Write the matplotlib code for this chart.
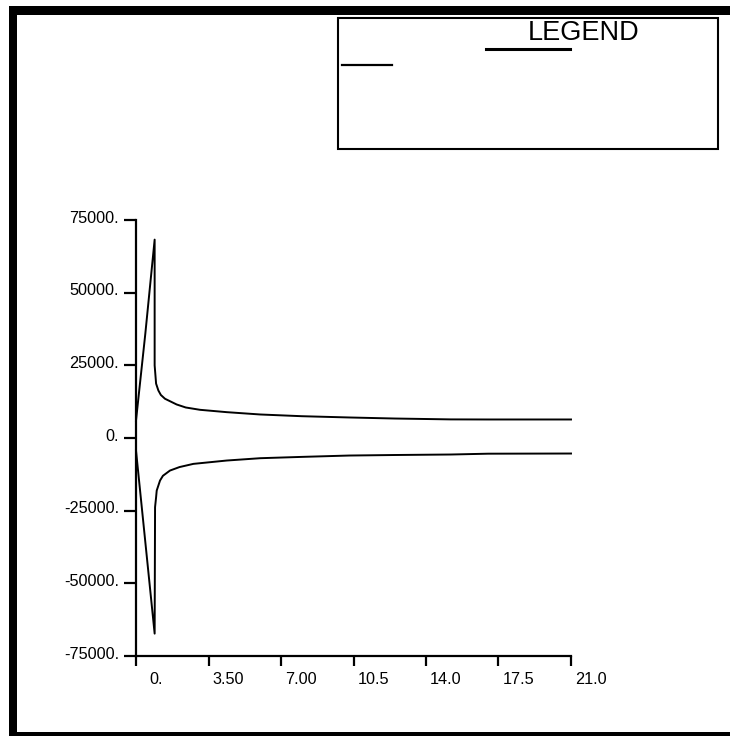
import matplotlib
matplotlib.use("Agg")
import matplotlib.pyplot as plt
import matplotlib.transforms as mtransforms
from matplotlib.patches import Rectangle
from matplotlib.lines import Line2D

plt.rcParams['font.family'] = ['Liberation Sans', 'DejaVu Sans']

# data
t_upper = [0, 0.45, 0.9, 0.9, 0.97, 1.08, 1.2, 1.4, 1.96, 2.4, 3.09, 4.38, 6.0, 8.0, 10.3, 12.5, 15.2, 17.0, 21.0]
v_upper = [6000, 35900, 68250, 25000, 18700, 16350, 14800, 13500, 11540, 10500, 9700, 8890, 8090, 7500, 7060, 6700, 6400, 6370, 6370]

t_lower = [0, 0.9, 0.92, 0.97, 1.0, 1.16, 1.3, 1.64, 2.1, 2.77, 4.38, 6.0, 8.0, 10.3, 12.5, 15.2, 17.0, 21.0]
v_lower = [-4300, -67300, -23800, -20400, -18080, -14630, -13000, -11200, -10000, -8900, -7750, -6950, -6500, -6030, -5850, -5680, -5400, -5340]

x_ticks = [0, 3.5, 7.0, 10.5, 14.0, 17.5, 21.0]
x_labels = ['0.', '3.50', '7.00', '10.5', '14.0', '17.5', '21.0']
y_ticks = [75000, 50000, 25000, 0, -25000, -50000, -75000]
y_labels = ['75000.', '50000.', '25000.', '0.', '-25000.', '-50000.', '-75000.']

W, H = 730, 736
fig = plt.figure(figsize=(W / 100, H / 100), dpi=100)


def fx(px):
    return px / W


def fy(py):
    return 1 - py / H


# thick frame around the page (open on the right)
for x0, y0, x1, y1 in [(9, 6, 730, 15), (9, 6, 17, 736), (9, 731.5, 730, 736)]:
    fig.add_artist(Rectangle((fx(x0), fy(y1)), fx(x1) - fx(x0), fy(y0) - fy(y1),
                             transform=fig.transFigure, facecolor='black',
                             edgecolor='none'))

# legend box
fig.add_artist(Rectangle((fx(338), fy(149)), fx(718) - fx(338), fy(18) - fy(149),
                         transform=fig.transFigure, facecolor='none',
                         edgecolor='black', linewidth=1.5))
fig.text(fx(584), fy(40), 'LEGEND', ha='center', va='baseline', fontsize=19.5)
fig.add_artist(Line2D([fx(486), fx(570)], [fy(48.7), fy(48.7)],
                      transform=fig.transFigure, color='black', linewidth=2.2))
fig.add_artist(Line2D([fx(342), fx(392)], [fy(64.5), fy(64.5)],
                      transform=fig.transFigure, color='black', linewidth=1.6))

# plot area
ax = fig.add_axes([fx(136), fy(656), fx(571) - fx(136), fy(220) - fy(656)])
ax.plot(t_upper, v_upper, color='black', linewidth=1.4, clip_on=False)
ax.plot(t_lower, v_lower, color='black', linewidth=1.4, clip_on=False)

ax.set_xlim(0, 21)
ax.set_ylim(-75000, 75000)
for side in ['top', 'right']:
    ax.spines[side].set_visible(False)
for side in ['left', 'bottom']:
    ax.spines[side].set_linewidth(1.6)

ax.set_xticks(x_ticks)
ax.set_yticks(y_ticks)
ax.set_xticklabels([])
ax.set_yticklabels([])
ax.tick_params(axis='x', direction='out', length=7.5, width=1.6)
ax.tick_params(axis='y', direction='out', length=8.5, width=1.6)

# tick labels, placed the way the original program drew them
xt = mtransforms.blended_transform_factory(ax.transData, ax.transAxes)
xt = mtransforms.offset_copy(xt, fig=fig, x=20, y=-28, units='dots')
for v, s in zip(x_ticks, x_labels):
    ax.text(v, 0, s, transform=xt, ha='center', va='baseline', fontsize=11.7)

yt = mtransforms.blended_transform_factory(ax.transAxes, ax.transData)
yt = mtransforms.offset_copy(yt, fig=fig, x=-17, y=-2.7, units='dots')
for v, s in zip(y_ticks, y_labels):
    ax.text(0, v, s, transform=yt, ha='right', va='baseline', fontsize=11.7)

fig.savefig('out.png', dpi=100)
